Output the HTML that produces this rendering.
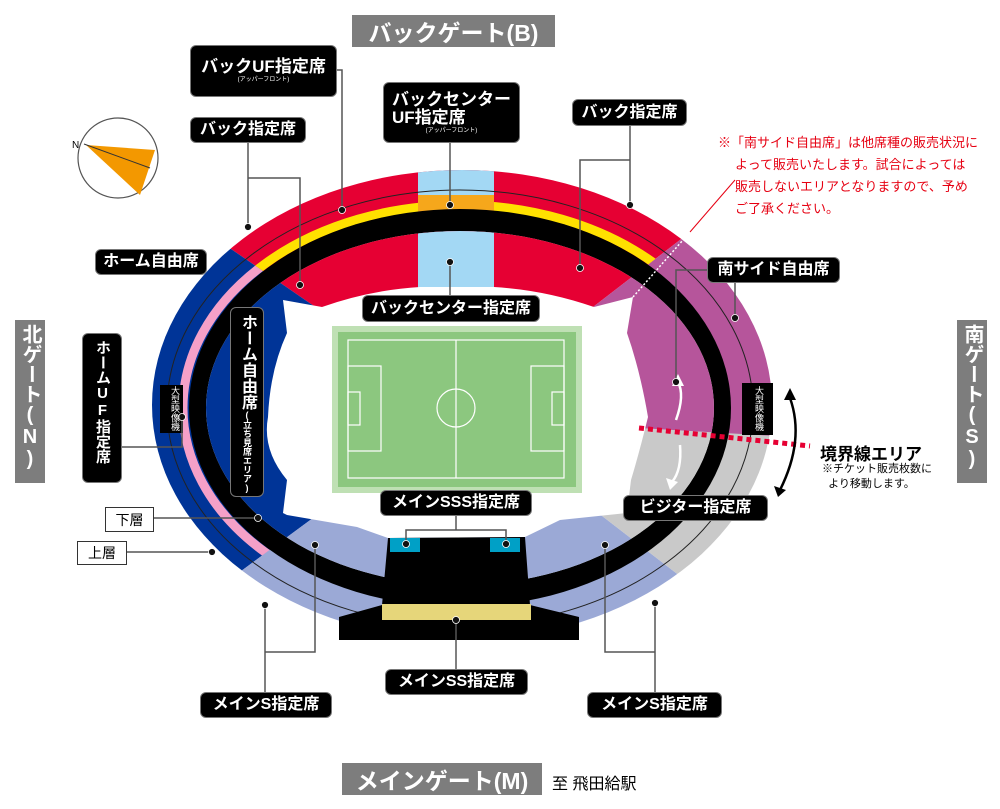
<!DOCTYPE html>
<html><head><meta charset="utf-8"><style>
html,body{margin:0;padding:0;background:#fff;overflow:hidden;width:1000px;height:809px}
#w{position:relative;width:1000px;height:809px;overflow:hidden;font-family:"Liberation Sans","Noto Sans CJK JP",sans-serif}
.l{position:absolute;background:#000;color:#fff;font-weight:bold;border-radius:6px;display:flex;align-items:center;justify-content:center;flex-direction:column;font-size:16px;line-height:1.1;white-space:nowrap;box-sizing:border-box;border:1.5px solid #777}
.g{position:absolute;background:#7d7d7d;color:#fff;font-weight:bold;display:flex;align-items:center;justify-content:center;font-size:23px;white-space:nowrap}
.v{writing-mode:vertical-rl;text-orientation:upright;display:block;box-sizing:border-box;overflow:hidden}
.s{font-size:6px;font-weight:normal}
.b{position:absolute;background:#fff;border:1.5px solid #333;color:#000;font-size:14px;display:flex;align-items:center;justify-content:center}
.red{position:absolute;color:#e60012;font-size:13px;line-height:22px;white-space:nowrap}
svg{position:absolute;left:0;top:0}
</style></head><body><div id="w">
<svg width="1000" height="809" viewBox="0 0 1000 809">
<defs>
<clipPath id="outer"><ellipse cx="462" cy="405" rx="310" ry="235"/></clipPath>
<clipPath id="redw"><polygon points="462,408 -26,72 -26,0 916,0 916,58"/></clipPath>
<clipPath id="bluew"><polygon points="462,408 -26,72 -100,72 -100,752 -4,752"/></clipPath>
<clipPath id="inner"><ellipse cx="460" cy="408" rx="254" ry="177"/></clipPath>
</defs>
<g clip-path="url(#outer)">
<polygon points="462,408 -26,72 -26,0 916,0 916,58" fill="#e60033"/>
<polygon points="462,408 -26,72 -100,72 -100,752 -4,752" fill="#003497"/>
<polygon points="462,408 -4,752 -4,900 1000,900 916,758" fill="#9ba9d6"/>
<polygon points="916,58 1100,58 1100,455 772,443 639,428 600,423 462,408" fill="#b6559b"/>
<polygon points="462,408 600,423 639,428 1100,455 1100,758 916,758" fill="#c9c9c9"/>
<rect x="418" y="150" width="76" height="200" fill="#a3d8f4"/>
<g fill="none" stroke-width="9">
<ellipse cx="460" cy="408" rx="277" ry="203" stroke="#f5a0c8" clip-path="url(#bluew)"/>
<g clip-path="url(#redw)"><ellipse cx="460" cy="408" rx="277" ry="203" stroke="#ffe100"/>
<rect x="418" y="195" width="76" height="20" fill="#f6a71b" stroke="none"/></g>
</g>
<ellipse cx="460" cy="408" rx="293" ry="218" fill="none" stroke="#222" stroke-width="1"/>
<ellipse cx="460" cy="408" rx="271" ry="199" fill="#000"/>
<ellipse cx="460" cy="408" rx="254" ry="177" fill="#fff"/>
</g>
<g clip-path="url(#inner)">
<polygon points="462,408 -26,72 -26,0 916,0 916,58" fill="#e60033"/>
<polygon points="462,408 -26,72 -100,72 -100,752 -4,752" fill="#003497"/>
<polygon points="462,408 -4,752 -4,900 1000,900 916,758" fill="#9ba9d6"/>
<polygon points="916,58 1100,58 1100,455 772,443 639,428 600,423 462,408" fill="#b6559b"/>
<polygon points="462,408 600,423 639,428 1100,455 1100,758 916,758" fill="#c9c9c9"/>
<rect x="418" y="150" width="76" height="200" fill="#a3d8f4"/>
</g>
<path d="M283,300 L322,307 Q370,290 420,287 L494,287 Q545,290 594,307 L633,297 L627,333 Q640,370 648,417 Q640,450 631,480 L627,513 L560,520 L525,537 L388,538 L357,527 L287,515 L283,513 L287,480 Q262,450 268,417 Q270,370 287,333 Z" fill="#fff"/>
<polygon points="388,538 525,537 530,605 579,617 579,640 339,640 339,617 382,605" fill="#000"/>
<rect x="382" y="604" width="149" height="16" fill="#e6d67a"/>
<rect x="390" y="538" width="30" height="14" fill="#00a0c6"/>
<rect x="490" y="538" width="30" height="14" fill="#00a0c6"/>
<rect x="332" y="326" width="250" height="167" fill="#bfe0b4"/>
<rect x="338" y="332" width="238" height="155" fill="#8cc77f"/>
<g fill="none" stroke="#fff" stroke-width="1.2">
<rect x="348" y="340" width="216" height="138"/>
<line x1="456" y1="340" x2="456" y2="478"/>
<circle cx="456" cy="408" r="19"/>
<rect x="348" y="366" width="33" height="85"/><rect x="348" y="392" width="12" height="33"/>
<rect x="531" y="366" width="33" height="85"/><rect x="552" y="392" width="12" height="33"/>
</g>
<rect x="160" y="385" width="23" height="48" fill="#000"/>
<rect x="742" y="383" width="31" height="52" fill="#000"/>
<line x1="639" y1="428" x2="810" y2="446" stroke="#e60033" stroke-width="5" stroke-dasharray="5 4"/>
<line x1="633" y1="297" x2="690" y2="232" stroke="#fff" stroke-width="1.5" stroke-dasharray="2 2"/>
<line x1="690" y1="232" x2="735" y2="180" stroke="#e60012" stroke-width="1"/>
<path d="M676,420 Q685,395 678,382" stroke="#fff" stroke-width="2.5" fill="none"/>
<polygon points="672,386 678,374 684,386" fill="#fff"/>
<path d="M680,445 Q682,470 672,482" stroke="#fff" stroke-width="2.5" fill="none"/>
<polygon points="666,478 670,490 678,482" fill="#fff"/>
<path d="M790,398 Q805,440 780,490" stroke="#000" stroke-width="2.5" fill="none"/>
<polygon points="784,400 790,388 796,400" fill="#000"/>
<polygon points="774,486 778,497 786,490" fill="#000"/>
<circle cx="118" cy="158" r="40" fill="#fff" stroke="#555" stroke-width="1.2"/>
<polygon points="86,145 155,150 140,195" fill="#f39800"/>
<line x1="84" y1="144" x2="150" y2="168" stroke="#333" stroke-width="1"/>
<text x="72" y="148" font-size="10" font-family="Liberation Sans">N</text>
<g stroke="#555" stroke-width="1.5" fill="none">
<polyline points="337,70 342,70 342,210"/>
<polyline points="248,143 248,227"/><polyline points="248,178 300,178 300,285"/>
<line x1="450" y1="143" x2="450" y2="205"/>
<line x1="450" y1="295" x2="450" y2="262"/>
<polyline points="630,126 630,205"/><polyline points="630,160 580,160 580,268"/>
<polyline points="707,270 676,270 676,382"/><line x1="735" y1="283" x2="735" y2="318"/>
<polyline points="122,447 182,447 182,417"/>
<line x1="152" y1="518" x2="258" y2="518"/>
<line x1="125" y1="552" x2="212" y2="552"/>
<polyline points="456,516 456,530"/><polyline points="406,544 406,530 506,530 506,544"/>
<polyline points="265,692 265,605"/><polyline points="265,652 315,652 315,545"/>
<line x1="456" y1="669" x2="456" y2="620"/>
<polyline points="655,692 655,603"/><polyline points="655,652 605,652 605,545"/>
</g>
<g fill="#111" stroke="#fff" stroke-width="0.8">
<circle cx="342" cy="210" r="3.5"/><circle cx="248" cy="227" r="3.5"/><circle cx="300" cy="285" r="3.5"/>
<circle cx="450" cy="205" r="3.5"/><circle cx="450" cy="262" r="3.5"/><circle cx="630" cy="205" r="3.5"/>
<circle cx="580" cy="268" r="3.5"/><circle cx="676" cy="382" r="3.5"/><circle cx="735" cy="318" r="3.5"/>
<circle cx="182" cy="417" r="3.5"/><circle cx="258" cy="518" r="3.5"/><circle cx="212" cy="552" r="3.5"/>
<circle cx="406" cy="544" r="3.5"/><circle cx="506" cy="544" r="3.5"/><circle cx="265" cy="605" r="3.5"/>
<circle cx="315" cy="545" r="3.5"/><circle cx="456" cy="620" r="3.5"/><circle cx="655" cy="603" r="3.5"/><circle cx="605" cy="545" r="3.5"/>
</g>
</svg>
<div class="g" style="left:352px;top:15px;width:203px;height:32px">バックゲート(B)</div>
<div class="g v" style="left:15px;top:320px;width:30px;height:163px;font-size:20px;line-height:30px;padding-top:4px">北ゲート(N)</div>
<div class="g v" style="left:957px;top:320px;width:30px;height:163px;font-size:20px;line-height:30px;padding-top:4px">南ゲート(S)</div>
<div class="g" style="left:342px;top:763px;width:200px;height:32px">メインゲート(M)</div>
<div style="position:absolute;left:552px;top:770px;font-size:16px">至 飛田給駅</div>
<div class="l" style="left:190px;top:45px;width:147px;height:52px;font-size:17px">バックUF指定席<span class="s">(アッパーフロント)</span></div>
<div class="l" style="left:190px;top:117px;width:116px;height:26px">バック指定席</div>
<div class="l" style="left:383px;top:82px;width:137px;height:61px;font-size:17px">バックセンター<br>UF指定席<span class="s">(アッパーフロント)</span></div>
<div class="l" style="left:572px;top:99px;width:115px;height:27px">バック指定席</div>
<div class="l" style="left:95px;top:249px;width:112px;height:26px">ホーム自由席</div>
<div class="l" style="left:707px;top:257px;width:133px;height:26px">南サイド自由席</div>
<div class="l" style="left:362px;top:295px;width:178px;height:27px">バックセンター指定席</div>
<div class="l v" style="left:82px;top:333px;width:40px;height:150px;font-size:15px;line-height:37px;padding-top:6px">ホームUF指定席</div>
<div class="l v" style="left:230px;top:307px;width:34px;height:190px;font-size:16px;line-height:31px;padding-top:6px">ホーム自由席<span style="font-size:9px">(立ち見席エリア)</span></div>
<div style="position:absolute;left:162px;top:386px;width:20px;font-size:9px;color:#fff;writing-mode:vertical-rl">大型映像機</div>
<div style="position:absolute;left:746px;top:386px;width:20px;font-size:9px;color:#fff;writing-mode:vertical-rl">大型映像機</div>
<div class="l" style="left:380px;top:490px;width:152px;height:26px">メインSSS指定席</div>
<div class="l" style="left:623px;top:495px;width:145px;height:26px">ビジター指定席</div>
<div class="b" style="left:105px;top:507px;width:47px;height:23px">下層</div>
<div class="b" style="left:77px;top:541px;width:48px;height:22px">上層</div>
<div class="l" style="left:385px;top:669px;width:143px;height:26px">メインSS指定席</div>
<div class="l" style="left:200px;top:692px;width:132px;height:26px">メインS指定席</div>
<div class="l" style="left:587px;top:692px;width:135px;height:26px">メインS指定席</div>
<div class="red" style="left:718px;top:132px">※「南サイド自由席」は他席種の販売状況に</div>
<div class="red" style="left:735px;top:154px">よって販売いたします。試合によっては</div>
<div class="red" style="left:735px;top:176px">販売しないエリアとなりますので、予め</div>
<div class="red" style="left:735px;top:198px">ご了承ください。</div>
<div style="position:absolute;left:820px;top:440px;font-size:17px;font-weight:bold">境界線エリア</div>
<div style="position:absolute;left:822px;top:462px;font-size:11px;line-height:15px">※チケット販売枚数に<br>&nbsp;&nbsp;より移動します。</div>
</div></body></html>
